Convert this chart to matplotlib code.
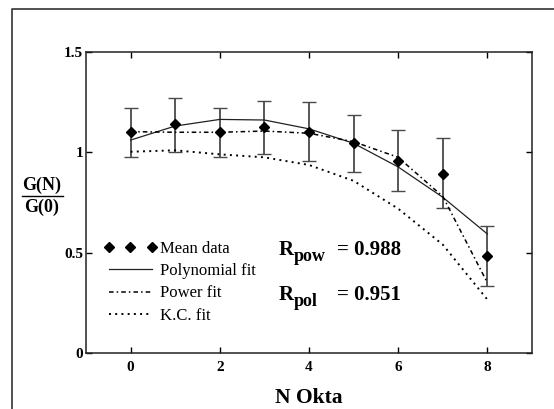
import numpy as np
import matplotlib.pyplot as plt
from matplotlib.lines import Line2D

plt.rcParams['font.family'] = 'Liberation Serif'

# cloud amount (okta) and normalised G(N)/G(0)
okta = [0, 1, 2, 3, 4, 5, 6, 7, 8]
mean_data = [1.10, 1.14, 1.10, 1.125, 1.10, 1.045, 0.958, 0.894, 0.484]
err_upper = [1.219, 1.269, 1.219, 1.256, 1.249, 1.186, 1.111, 1.070, 0.634]
err_lower = [0.978, 1.000, 0.978, 0.990, 0.958, 0.900, 0.806, 0.722, 0.334]
poly_fit = [1.061, 1.131, 1.164, 1.161, 1.117, 1.045, 0.927, 0.776, 0.593]
power_fit = [1.103, 1.100, 1.100, 1.106, 1.095, 1.053, 0.975, 0.780, 0.350]
kc_fit = [1.003, 1.010, 0.990, 0.975, 0.937, 0.858, 0.719, 0.540, 0.266]
r_pow = 0.988
r_pol = 0.951

fig = plt.figure(figsize=(5.54, 4.09), dpi=100)
ax = fig.add_axes([0.1552, 0.1369, 0.8051, 0.736])

mean_arr = np.array(mean_data)
yerr = [mean_arr - np.array(err_lower), np.array(err_upper) - mean_arr]
ax.errorbar(okta, mean_data, yerr=yerr, fmt='none', ecolor='#4a4a4a',
            elinewidth=1.3, capsize=5, capthick=1.0)

ax.plot(okta, poly_fit, '-', color='#222222', lw=0.9, label='Polynomial fit')
ax.plot(okta, power_fit, color='black', lw=1.1, dashes=(3, 2, 1, 2), label='Power fit')
ax.plot(okta, kc_fit, color='black', lw=1.4, dashes=(1, 2.2), label='K.C. fit')
ax.plot(okta, mean_data, 'D', color='black', ms=5, ls='none', label='Mean data')

ax.set_xlim(-1, 9)
ax.set_ylim(0, 1.5)
ax.set_xticks([0, 2, 4, 6, 8])
ax.set_yticks([0, 0.5, 1, 1.5])
ax.set_yticklabels(['0', '0.5', '1', '1.5'])
ax.tick_params(direction='in', length=4, width=1, top=True, right=True,
               labelsize=11)
ax.tick_params(axis='x', pad=6)
ax.tick_params(axis='y', pad=2)
for lbl in ax.get_xticklabels() + ax.get_yticklabels():
    lbl.set_fontweight('bold')
for sp in ax.spines.values():
    sp.set_linewidth(1.1)
    sp.set_color('#222222')

handles, labels = ax.get_legend_handles_labels()
order = [3, 0, 1, 2]
ax.legend([handles[i] for i in order], [labels[i] for i in order],
          loc='upper left', bbox_to_anchor=(0.04, 0.372), frameon=False,
          numpoints=3, handlelength=3.2, handletextpad=0.15,
          labelspacing=0.37, borderpad=0, borderaxespad=0, fontsize=12)


def r_label(y, sub, value):
    # R with a large subscript, then "= value"
    kw = dict(xycoords='data', textcoords='offset points', va='baseline',
              ha='left', fontweight='bold')
    ax.annotate('R', (3.33, y), xytext=(0, 0), fontsize=15, **kw)
    ax.annotate(sub, (3.33, y), xytext=(10.5, -4.5), fontsize=13, **kw)
    ax.annotate(f'= {value:.3f}', (3.33, y), xytext=(41.5, 0), fontsize=15, **kw)


r_label(0.488, 'pow', r_pow)
r_label(0.264, 'pol', r_pol)

ax.set_xlabel('N Okta', fontsize=15.5, fontweight='bold', labelpad=10)

# G(N)/G(0) written as a fraction
fig.text(42 / 554, 1 - 185 / 409, 'G(N)', ha='center', va='center',
         fontsize=13, fontweight='bold')
fig.text(42 / 554, 1 - 207 / 409, 'G(0)', ha='center', va='center',
         fontsize=13, fontweight='bold')
fig.add_artist(Line2D([22 / 554, 63 / 554], [1 - 196 / 409, 1 - 196 / 409],
                      color='black', lw=1))

# outer frame
fig.add_artist(Line2D([12 / 554, 12 / 554, 1.0], [0.0, 1 - 9 / 409, 1 - 9 / 409],
                      color='#333333', lw=1.2))

fig.savefig('out.png', dpi=100)
